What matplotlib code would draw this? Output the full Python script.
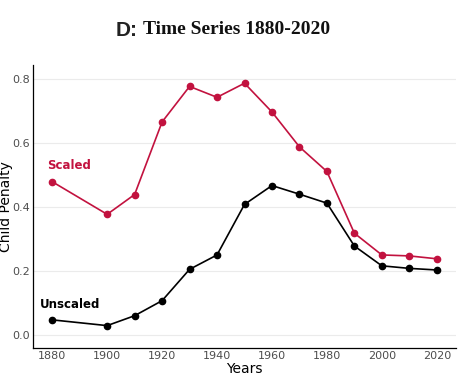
import matplotlib.pyplot as plt

years = [1880, 1900, 1910, 1920, 1930, 1940, 1950, 1960, 1970, 1980, 1990, 2000, 2010, 2020]
scaled = [0.480, 0.378, 0.440, 0.667, 0.778, 0.744, 0.788, 0.698, 0.589, 0.512, 0.319, 0.251, 0.248, 0.239]
unscaled = [0.048, 0.030, 0.061, 0.108, 0.206, 0.251, 0.409, 0.468, 0.441, 0.413, 0.279, 0.217, 0.209, 0.204]

red = '#C2123F'

fig = plt.figure(figsize=(4.58, 3.75), dpi=100)
ax = fig.add_axes([33 / 458, 27 / 375, 423 / 458, 283 / 375])

ax.plot(years, scaled, color=red, marker='o', markersize=4.5, linewidth=1.2)
ax.plot(years, unscaled, color='black', marker='o', markersize=4.5, linewidth=1.2)

ax.text(1878, 0.53, 'Scaled', color=red, fontsize=8.5, fontweight='bold', ha='left', va='center')
ax.text(1875.5, 0.095, 'Unscaled', color='black', fontsize=8.5, fontweight='bold', ha='left', va='center')

ax.set_xlim(1873, 2027)
ax.set_ylim(-0.04, 0.845)
ax.set_xticks(range(1880, 2021, 20))
ax.set_yticks([0.0, 0.2, 0.4, 0.6, 0.8])
ax.set_yticklabels(['0.0', '0.2', '0.4', '0.6', '0.8'])
ax.grid(axis='y', color='#ebebeb', linewidth=0.8)
ax.set_axisbelow(True)
for s in ['top', 'right']:
    ax.spines[s].set_visible(False)
ax.spines['left'].set_linewidth(0.9)
ax.spines['bottom'].set_linewidth(0.9)
ax.tick_params(axis='both', length=0, labelsize=8, labelcolor='#4d4d4d', pad=2)

ax.set_xlabel('Years', fontsize=10, va='center')
ax.xaxis.set_label_coords(0.5, -0.074)
ax.set_ylabel('Child Penalty', fontsize=10, va='center')
ax.yaxis.set_label_coords(-0.063, 0.5)

# two-font title
fig.text(138 / 458, 1 - 30 / 375, 'D:', fontsize=15, fontweight='bold', family='Liberation Sans',
         ha='right', va='center', color='#222222')
fig.text(143 / 458, 1 - 30 / 375, 'Time Series 1880-2020', fontsize=14, fontweight='bold',
         family='Liberation Serif', ha='left', va='center', color='#111111')

fig.savefig('out.png', dpi=100)
